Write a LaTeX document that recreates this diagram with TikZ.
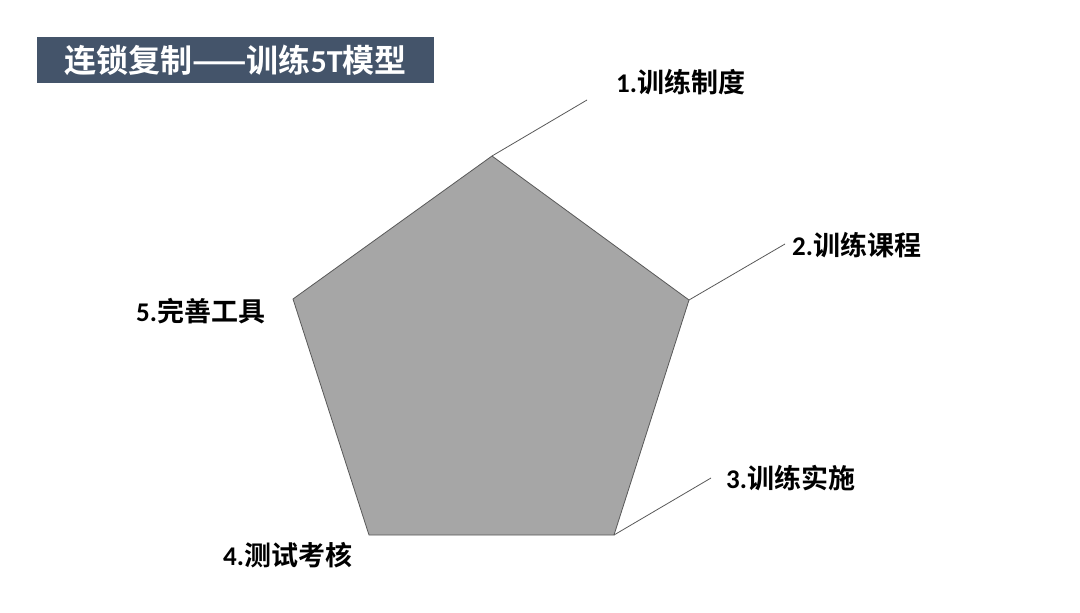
\documentclass[tikz,border=0pt]{standalone}
\usepackage{fontspec}
\newfontfamily\cjk{Noto Sans CJK SC}[BoldFont={* Bold}]
\newfontfamily\lat{Carlito}
\definecolor{titlebg}{HTML}{44546A}
\definecolor{pentfill}{HTML}{A6A6A6}
\definecolor{pentline}{HTML}{595959}
\begin{document}
\begin{tikzpicture}[x=1pt,y=-1pt,
  lbl/.style={inner sep=0pt, font=\fontsize{27}{29}\selectfont\bfseries, text=black},
  leader/.style={draw=pentline, line width=0.8pt}]
\useasboundingbox[fill=white] (0,0) rectangle (1080,613);
\node[fill=titlebg, minimum width=397pt, minimum height=46pt, inner sep=0pt,
      text=white, font=\fontsize{32}{34}\selectfont\bfseries] (title) at (235.5,60)
      {\cjk 连锁复制——训练{\lat 5T}模型};
\coordinate (v1) at (492,156);
\coordinate (v2) at (689,300);
\coordinate (v3) at (614,535);
\coordinate (v4) at (369,535);
\coordinate (v5) at (293,299);
\draw[fill=pentfill, draw=pentline, line width=0.8pt] (v1) -- (v2) -- (v3) -- (v4) -- (v5) -- cycle;
\coordinate (e1) at (587,100);
\coordinate (e2) at (785,244);
\coordinate (e3) at (711,478);
\draw[leader] (v1) -- (e1);
\draw[leader] (v2) -- (e2);
\draw[leader] (v3) -- (e3);
\node[lbl, anchor=west] (l1) at (616,82) {{\lat 1.}\cjk 训练制度};
\node[lbl, anchor=west] (l2) at (792,245) {{\lat 2.}\cjk 训练课程};
\node[lbl, anchor=west] (l3) at (726,478) {{\lat 3.}\cjk 训练实施};
\node[lbl, anchor=west] (l4) at (223,555) {{\lat 4.}\cjk 测试考核};
\node[lbl, anchor=west] (l5) at (136,311) {{\lat 5.}\cjk 完善工具};
\end{tikzpicture}
\end{document}
